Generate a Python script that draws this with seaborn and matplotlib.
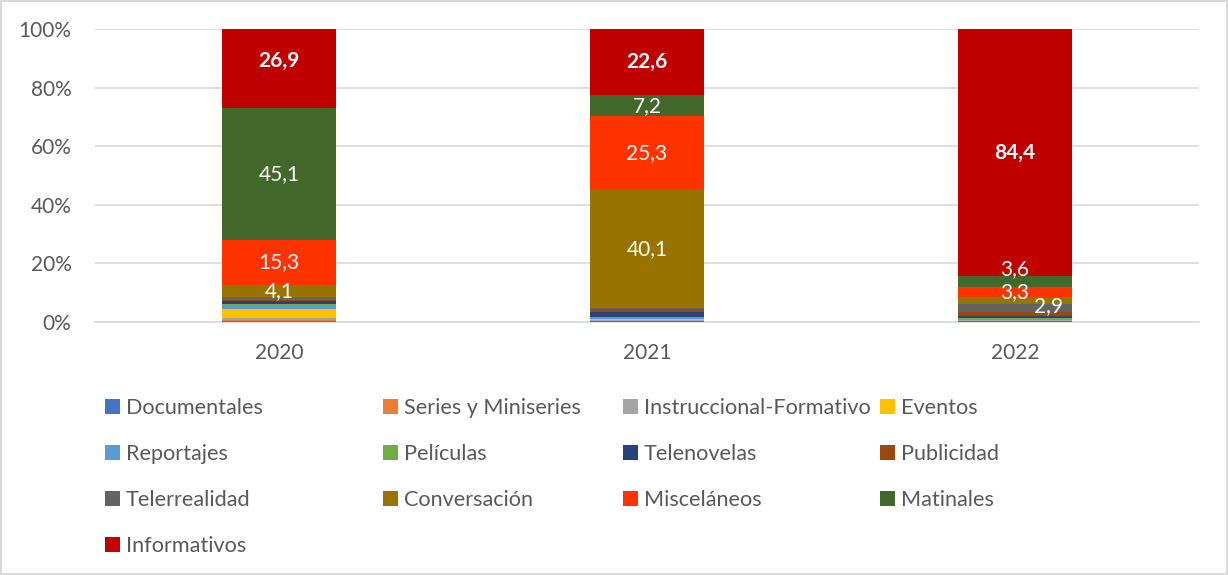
import numpy as np
import pandas as pd
import matplotlib
matplotlib.use('Agg')
import matplotlib.pyplot as plt
import seaborn as sns
from matplotlib.patches import Patch

# data (shares in %, bottom to top)
years = ['2020', '2021', '2022']
categories = ['Documentales', 'Series y Miniseries', 'Instruccional-Formativo', 'Eventos',
              'Reportajes', 'Películas', 'Telenovelas', 'Publicidad',
              'Telerrealidad', 'Conversación', 'Misceláneos', 'Matinales', 'Informativos']
documentales = [0.3, 0.3, 0.2]
series = [0.3, 0.1, 0.2]
instruccional = [0.6, 0.4, 0.2]
eventos = [3.4, 0.1, 0.1]
reportajes = [1.2, 0.7, 0.3]
peliculas = [0.4, 0.2, 0.3]
telenovelas = [0.8, 1.6, 0.9]
publicidad = [0.6, 1.2, 1.1]
telerrealidad = [1.0, 0.2, 2.9]
conversacion = [4.1, 40.1, 2.5]
miscelaneos = [15.3, 25.3, 3.3]
matinales = [45.1, 7.2, 3.6]
informativos = [26.9, 22.6, 84.4]

# which segments get a data label
labels_shown = {
    'Conversación': [True, True, False],
    'Misceláneos': [True, True, True],
    'Matinales': [True, True, True],
    'Informativos': [True, True, True],
    'Telerrealidad': [False, False, True],
}

colors = ['#4472C4', '#ED7D31', '#A5A5A5', '#FFC000', '#5B9BD5', '#70AD47', '#264478',
          '#9E480E', '#636363', '#997300', '#FF3300', '#43682B', '#C00000']

values = [documentales, series, instruccional, eventos, reportajes, peliculas, telenovelas,
          publicidad, telerrealidad, conversacion, miscelaneos, matinales, informativos]

df = pd.DataFrame(values, index=categories, columns=years)
cum = df.cumsum()

sns.set_style('white')
plt.rcParams['font.family'] = ['Lato', 'DejaVu Sans']

fig = plt.figure(figsize=(12.28, 5.75), dpi=100, edgecolor='#d9d9d9', linewidth=1.5)
ax = fig.add_axes([95 / 1228, 253 / 575, 1104 / 1228, 293 / 575])

# draw cumulative bars from the top category down so each overlaps the previous
for cat, col in zip(categories[::-1], colors[::-1]):
    sns.barplot(x=years, y=cum.loc[cat].values, color=col, width=0.31,
                linewidth=0, saturation=1, ax=ax, zorder=3)

# manual nudges for labels (in data units / category units)
nudge = {('Informativos', 0): (0, 2.5), ('Matinales', 2): (0, 4.2),
         ('Telerrealidad', 2): (0.09, 0.8)}
for cat, flags in labels_shown.items():
    for i, show in enumerate(flags):
        if not show:
            continue
        v = df.loc[cat].iloc[i]
        center = cum.loc[cat].iloc[i] - v / 2
        dx, dy = nudge.get((cat, i), (0, 0))
        ax.text(i + dx, center + dy, f'{v:.1f}'.replace('.', ','), ha='center', va='center',
                color='white', fontsize=15,
                fontweight='bold' if cat == 'Informativos' else 'normal', zorder=5)

ax.set_ylim(0, 100)
ax.set_xlim(-0.5, 2.5)
ax.set_yticks(np.arange(0, 101, 20))
ax.set_yticklabels([f'{t}%' for t in range(0, 101, 20)])
ax.yaxis.grid(True, color='#d9d9d9', linewidth=1.2, zorder=0)
ax.set_axisbelow(True)
for s in ['top', 'right', 'left']:
    ax.spines[s].set_visible(False)
ax.spines['bottom'].set_color('#d9d9d9')
ax.spines['bottom'].set_linewidth(1.2)
ax.tick_params(axis='both', length=0, labelsize=15, colors='#595959')
ax.tick_params(axis='x', pad=15)
ax.tick_params(axis='y', pad=17)
ax.set_xlabel('')
ax.set_ylabel('')

# legend laid out row-wise in 4 columns
col_x = [105, 383, 623, 880]
for c in range(4):
    idx = list(range(c, len(categories), 4))
    handles = [Patch(facecolor=colors[k], edgecolor='none') for k in idx]
    labs = [categories[k] for k in idx]
    fig.legend(handles, labs, loc='upper left', bbox_to_anchor=(col_x[c] / 1228, 1 - 398 / 575),
               frameon=False, fontsize=15.6, labelcolor='#595959', handlelength=0.7,
               handleheight=0.7, handletextpad=0.25, labelspacing=1.2, borderpad=0,
               borderaxespad=0)

fig.savefig('out.png', dpi=100, edgecolor=fig.get_edgecolor())
